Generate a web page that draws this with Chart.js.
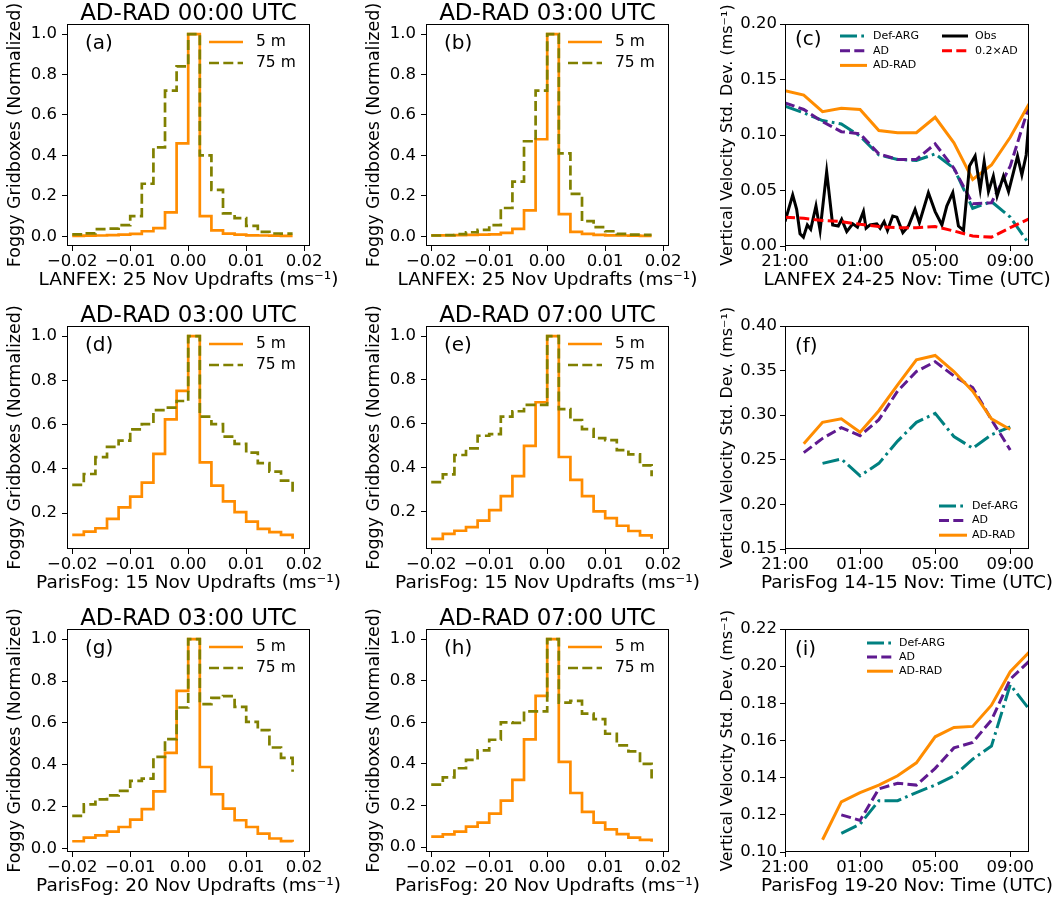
<!DOCTYPE html>
<html>
<head>
<meta charset="utf-8">
<script src="https://cdn.jsdelivr.net/npm/chart.js@4.4.1/dist/chart.umd.min.js"></script>
<style>
  html, body { margin: 0; padding: 0; background: #fff; overflow: hidden; }
  #fig { position: relative; width: 1059px; height: 901px; background: #fff; }
  #fig canvas { position: absolute; }
</style>
</head>
<body>
<div id="fig"></div>
<script>
// ---- histogram data: updraft bins (left edges, ms-1) and normalised counts ----
const binsX = [-0.020, -0.018, -0.016, -0.014, -0.012, -0.010, -0.008, -0.006, -0.004, -0.002,
               0.000, 0.002, 0.004, 0.006, 0.008, 0.010, 0.012, 0.014, 0.016, 0.018];

const lanfex00_5m  = [0.002, 0.003, 0.004, 0.006, 0.008, 0.012, 0.025, 0.040, 0.118, 0.46, 1.0, 0.10, 0.029, 0.013, 0.008, 0.005, 0.004, 0.003, 0.002, 0.002];
const lanfex00_75m = [0.010, 0.015, 0.036, 0.038, 0.055, 0.100, 0.26, 0.44, 0.72, 0.84, 1.0, 0.40, 0.23, 0.113, 0.090, 0.052, 0.022, 0.014, 0.013, 0.013];
const lanfex03_5m  = [0.005, 0.005, 0.006, 0.007, 0.008, 0.010, 0.017, 0.037, 0.128, 0.48, 1.0, 0.11, 0.022, 0.012, 0.007, 0.005, 0.004, 0.003, 0.002, 0.002];
const lanfex03_75m = [0.004, 0.006, 0.011, 0.020, 0.032, 0.055, 0.14, 0.27, 0.47, 0.72, 1.0, 0.41, 0.21, 0.075, 0.045, 0.025, 0.012, 0.008, 0.007, 0.007];

const paris15_03_5m  = [0.102, 0.117, 0.132, 0.174, 0.226, 0.275, 0.338, 0.468, 0.624, 0.753, 1.0, 0.43, 0.325, 0.253, 0.205, 0.162, 0.129, 0.114, 0.102, 0.084];
const paris15_03_75m = [0.328, 0.377, 0.453, 0.500, 0.528, 0.579, 0.602, 0.666, 0.677, 0.707, 1.0, 0.636, 0.602, 0.546, 0.513, 0.474, 0.426, 0.388, 0.347, 0.283];
const paris15_07_5m  = [0.074, 0.097, 0.111, 0.128, 0.157, 0.205, 0.269, 0.361, 0.499, 0.698, 1.0, 0.448, 0.343, 0.269, 0.200, 0.169, 0.134, 0.110, 0.090, 0.075];
const paris15_07_75m = [0.333, 0.369, 0.457, 0.487, 0.545, 0.552, 0.632, 0.657, 0.686, 0.686, 1.0, 0.667, 0.617, 0.575, 0.534, 0.525, 0.479, 0.460, 0.410, 0.360];

const paris20_03_5m  = [0.036, 0.053, 0.064, 0.082, 0.104, 0.139, 0.189, 0.274, 0.457, 0.753, 1.0, 0.39, 0.26, 0.192, 0.136, 0.104, 0.072, 0.049, 0.037, 0.033];
const paris20_03_75m = [0.157, 0.212, 0.236, 0.255, 0.276, 0.324, 0.335, 0.438, 0.523, 0.674, 1.0, 0.69, 0.72, 0.728, 0.677, 0.605, 0.566, 0.483, 0.434, 0.367];
const paris20_07_5m  = [0.050, 0.061, 0.074, 0.098, 0.118, 0.161, 0.223, 0.323, 0.518, 0.727, 1.0, 0.41, 0.26, 0.169, 0.118, 0.085, 0.062, 0.045, 0.035, 0.025];
const paris20_07_75m = [0.300, 0.335, 0.379, 0.419, 0.465, 0.516, 0.600, 0.597, 0.653, 0.653, 1.0, 0.695, 0.703, 0.642, 0.615, 0.545, 0.489, 0.460, 0.400, 0.330];

// ---- time series: hours after 21:00 UTC ----
const hours = [0, 1, 2, 3, 4, 5, 6, 7, 8, 9, 10, 11, 12, 13];

const lanfexDefArg = [0.126, 0.120, 0.113, 0.110, 0.099, 0.082, 0.078, 0.077, 0.083, 0.070, 0.034, 0.040, 0.026, 0.002];
const lanfexAD     = [0.129, 0.123, 0.112, 0.103, 0.101, 0.083, 0.078, 0.078, 0.092, 0.070, 0.038, 0.039, 0.072, 0.126];
const lanfexADRAD  = [0.140, 0.136, 0.121, 0.124, 0.123, 0.104, 0.102, 0.102, 0.116, 0.093, 0.060, 0.073, 0.098, 0.128];
const lanfexADx02  = [0.026, 0.025, 0.023, 0.022, 0.0195, 0.0175, 0.0165, 0.0165, 0.0175, 0.0135, 0.009, 0.008, 0.0165, 0.0245];

const obsHours  = [0, 0.41, 0.62, 0.8, 0.98, 1.19, 1.37, 1.65, 1.87, 2.22, 2.54, 2.84, 3.02, 3.29, 3.61, 3.86, 4.18, 4.32, 4.53, 4.89,
                   5.07, 5.28, 5.46, 5.74, 5.96, 6.28, 6.58, 6.93, 7.16, 7.64, 8.0, 8.36, 8.62, 8.94, 9.24, 9.51, 9.83, 10.13, 10.4, 10.61,
                   10.84, 11.1, 11.3, 11.64, 11.91, 12.18, 12.39, 12.62, 12.85, 13.0];
const obsValues = [0.022, 0.046, 0.033, 0.011, 0.008, 0.019, 0.015, 0.036, 0.014, 0.067, 0.019, 0.018, 0.024, 0.013, 0.020, 0.017, 0.031, 0.016, 0.019, 0.020,
                   0.016, 0.022, 0.014, 0.027, 0.026, 0.012, 0.018, 0.033, 0.021, 0.048, 0.031, 0.019, 0.036, 0.048, 0.018, 0.014, 0.072, 0.081, 0.051, 0.076,
                   0.049, 0.063, 0.045, 0.063, 0.049, 0.067, 0.081, 0.064, 0.082, 0.114];

const paris15DefArg = [null, null, 0.246, 0.251, 0.232, 0.246, 0.271, 0.292, 0.302, 0.276, 0.263, 0.278, 0.287, null];
const paris15AD     = [null, 0.258, 0.274, 0.286, 0.277, 0.295, 0.327, 0.349, 0.360, 0.344, 0.331, 0.295, 0.261, null];
const paris15ADRAD  = [null, 0.268, 0.292, 0.296, 0.281, 0.305, 0.334, 0.362, 0.367, 0.349, 0.327, 0.296, 0.284, null];

const paris20DefArg = [null, null, null, 0.110, 0.115, 0.1276, 0.1276, 0.132, 0.136, 0.141, 0.150, 0.157, 0.190, 0.177];
const paris20AD     = [null, null, null, 0.120, 0.117, 0.134, 0.137, 0.136, 0.145, 0.156, 0.159, 0.171, 0.193, 0.2026];
const paris20ADRAD  = [null, null, 0.1066, 0.127, 0.132, 0.136, 0.141, 0.148, 0.162, 0.167, 0.1676, 0.179, 0.197, 0.2075];

// ---- tick positions and labels ----
const histXTicks = [-0.02, -0.01, 0, 0.01, 0.02];
const histXLabels = ['\u22120.02', '\u22120.01', '0.00', '0.01', '0.02'];
const histYTicks = [0, 0.2, 0.4, 0.6, 0.8, 1.0];
const histYLabels = ['0.0', '0.2', '0.4', '0.6', '0.8', '1.0'];
const timeTicks = [0, 4, 8, 12];
const timeLabels = ['21:00', '01:00', '05:00', '09:00'];
const lanfexYTicks = [0, 0.05, 0.10, 0.15, 0.20];
const lanfexYLabels = ['0.00', '0.05', '0.10', '0.15', '0.20'];
const paris15YTicks = [0.15, 0.20, 0.25, 0.30, 0.35, 0.40];
const paris15YLabels = ['0.15', '0.20', '0.25', '0.30', '0.35', '0.40'];
const paris20YTicks = [0.10, 0.12, 0.14, 0.16, 0.18, 0.20, 0.22];
const paris20YLabels = ['0.10', '0.12', '0.14', '0.16', '0.18', '0.20', '0.22'];

// ---- styling ----
const FONT = "'DejaVu Sans', sans-serif";
const ORANGE = '#ff8c00', OLIVE = '#808000', TEAL = '#008080', PURPLE = '#5f1a90', RED = '#ff0000';
const DASH = [10, 4.3];
const DASHDOT = [17, 4.3, 2.7, 4.3];

Chart.defaults.font.family = FONT;
Chart.defaults.color = '#000';

const COL_LEFT = [67, 426, 785];
const COL_W = [243, 243, 244];
const ROW_TOP = [24, 326, 629];
const ROW_H = [222, 223, 223];
const AXIS_W = 67, TOP_H = 24, AXIS_H = 52;

const fig = document.getElementById('fig');

function makeCanvas(col, row) {
  const c = document.createElement('canvas');
  const left = COL_LEFT[col] - AXIS_W;
  const top = ROW_TOP[row] - TOP_H;
  const w = col === 2 ? 1059 - left : AXIS_W + COL_W[col] + 30;
  const h = TOP_H + ROW_H[row] + AXIS_H;
  c.width = w; c.height = h;
  c.style.left = left + 'px'; c.style.top = top + 'px';
  c.style.width = w + 'px'; c.style.height = h + 'px';
  fig.appendChild(c);
  return { canvas: c, right: w - AXIS_W - COL_W[col] };
}

// frame, titles, axis labels, panel letter and an in-axes legend
function decor(cfg) {
  return {
    id: 'decor',
    afterDatasetsDraw(chart) {
      const { ctx, chartArea: a } = chart;
      ctx.save();
      ctx.setLineDash([]);
      ctx.strokeStyle = '#000';
      ctx.lineWidth = 1;
      ctx.strokeRect(Math.round(a.left) + 0.5, Math.round(a.top) + 0.5,
                     Math.round(a.width) - 1, Math.round(a.height) - 1);
      ctx.fillStyle = '#000';

      ctx.textAlign = 'center';
      ctx.textBaseline = 'alphabetic';
      if (cfg.title) {
        ctx.font = '23px ' + FONT;
        ctx.fillText(cfg.title, a.left + a.width / 2, a.top - 4);
      }
      ctx.font = '18.5px ' + FONT;
      ctx.fillText(cfg.xTitle, a.left + a.width / 2, a.bottom + 39);
      ctx.save();
      ctx.translate(a.left - cfg.yTitleGap, a.top + a.height / 2);
      ctx.rotate(-Math.PI / 2);
      ctx.font = cfg.yTitleSize + 'px ' + FONT;
      ctx.fillText(cfg.yTitle, 0, 0);
      ctx.restore();

      ctx.textAlign = 'left';
      ctx.textBaseline = 'middle';
      ctx.font = '20px ' + FONT;
      ctx.fillText(cfg.tag, a.left + cfg.tagPos[0], a.top + cfg.tagPos[1]);

      const lg = cfg.legend;
      ctx.font = lg.size + 'px ' + FONT;
      lg.items.forEach(it => {
        const [x0, x1, tx] = lg.cols[it.col || 0];
        const y = a.top + lg.y + it.row * lg.dy;
        ctx.beginPath();
        ctx.strokeStyle = it.color;
        ctx.lineWidth = it.width;
        ctx.setLineDash(it.dash || []);
        ctx.moveTo(a.left + x0, y);
        ctx.lineTo(a.left + x1, y);
        ctx.stroke();
        ctx.fillStyle = '#000';
        ctx.fillText(it.label, a.left + tx, y);
      });
      ctx.restore();
    }
  };
}

const tickGrid = { drawOnChartArea: false, drawTicks: true, tickLength: 5, color: '#000', lineWidth: 1 };

function axis(min, max, ticks, labels, fit, tickPad) {
  return {
    type: 'linear', min, max,
    afterFit: fit,
    afterBuildTicks: s => { s.ticks = ticks.filter(v => v >= min && v <= max).map(v => ({ value: v })); },
    ticks: {
      autoSkip: false, maxRotation: 0, padding: tickPad,
      font: { size: 16.5 },
      callback: v => labels[ticks.indexOf(v)]
    },
    grid: tickGrid,
    border: { display: false },
    title: { display: false }
  };
}

function histPanel(col, row, title, tag, xTitle, small, large) {
  const { canvas, right } = makeCanvas(col, row);
  const lo = Math.min(...small, ...large), hi = Math.max(...small, ...large);
  const yMin = lo - 0.05 * (hi - lo), yMax = hi + 0.05 * (hi - lo);
  const pts = arr => binsX.map((x, i) => ({ x, y: arr[i] }));
  new Chart(canvas, {
    type: 'line',
    data: {
      datasets: [
        { label: '75 m', data: pts(large), borderColor: OLIVE, borderWidth: 2.7, borderDash: DASH,
          stepped: 'before', pointRadius: 0, fill: false },
        { label: '5 m', data: pts(small), borderColor: ORANGE, borderWidth: 2.7,
          stepped: 'before', pointRadius: 0, fill: false }
      ]
    },
    options: {
      responsive: false, animation: false, events: [],
      layout: { padding: { top: TOP_H, right, left: 0, bottom: 0 } },
      plugins: { legend: { display: false }, tooltip: { enabled: false } },
      scales: {
        x: axis(-0.0209, 0.0210, histXTicks, histXLabels, s => { s.height = AXIS_H; }, 1),
        y: axis(yMin, yMax, histYTicks, histYLabels, s => { s.width = AXIS_W; }, 5)
      }
    },
    plugins: [decor({
      title, tag, tagPos: [18, 20], xTitle,
      yTitle: 'Foggy Gridboxes (Normalized)', yTitleSize: 17.5, yTitleGap: 47.5,
      legend: {
        size: 15.5, cols: [[142, 176, 189]], y: 18, dy: 21,
        items: [
          { label: '5 m', color: ORANGE, width: 2.7, row: 0 },
          { label: '75 m', color: OLIVE, width: 2.7, dash: DASH, row: 1 }
        ]
      }
    })]
  });
}

function seriesPanel(row, tag, tagPos, xTitle, yMin, yMax, yTicks, yLabels, series, legend) {
  const { canvas, right } = makeCanvas(2, row);
  const n = series.length;
  new Chart(canvas, {
    type: 'line',
    data: {
      datasets: series.map((s, i) => ({
        label: s.label,
        data: s.x.map((x, j) => ({ x, y: s.y[j] })).filter(p => p.y !== null),
        borderColor: s.color, borderWidth: 3, borderDash: s.dash || [],
        pointRadius: 0, fill: false, tension: 0, order: n - i
      }))
    },
    options: {
      responsive: false, animation: false, events: [],
      layout: { padding: { top: TOP_H, right, left: 0, bottom: 0 } },
      plugins: { legend: { display: false }, tooltip: { enabled: false } },
      scales: {
        x: axis(0, 13, timeTicks, timeLabels, s => { s.height = AXIS_H; }, 1),
        y: axis(yMin, yMax, yTicks, yLabels, s => { s.width = AXIS_W; }, 3)
      }
    },
    plugins: [decor({
      title: null, tag, tagPos, xTitle,
      yTitle: 'Vertical Velocity Std. Dev. (ms\u207b\u00b9)', yTitleSize: 16, yTitleGap: 53,
      legend
    })]
  });
}

// ---- left and middle columns ----
histPanel(0, 0, 'AD-RAD 00:00 UTC', '(a)', 'LANFEX: 25 Nov Updrafts (ms\u207b\u00b9)', lanfex00_5m, lanfex00_75m);
histPanel(1, 0, 'AD-RAD 03:00 UTC', '(b)', 'LANFEX: 25 Nov Updrafts (ms\u207b\u00b9)', lanfex03_5m, lanfex03_75m);
histPanel(0, 1, 'AD-RAD 03:00 UTC', '(d)', 'ParisFog: 15 Nov Updrafts (ms\u207b\u00b9)', paris15_03_5m, paris15_03_75m);
histPanel(1, 1, 'AD-RAD 07:00 UTC', '(e)', 'ParisFog: 15 Nov Updrafts (ms\u207b\u00b9)', paris15_07_5m, paris15_07_75m);
histPanel(0, 2, 'AD-RAD 03:00 UTC', '(g)', 'ParisFog: 20 Nov Updrafts (ms\u207b\u00b9)', paris20_03_5m, paris20_03_75m);
histPanel(1, 2, 'AD-RAD 07:00 UTC', '(h)', 'ParisFog: 20 Nov Updrafts (ms\u207b\u00b9)', paris20_07_5m, paris20_07_75m);

// ---- right column ----
const modelItems = [
  { label: 'Def-ARG', color: TEAL, width: 3, dash: DASHDOT, row: 0 },
  { label: 'AD', color: PURPLE, width: 3, dash: DASH, row: 1 },
  { label: 'AD-RAD', color: ORANGE, width: 3, row: 2 }
];

seriesPanel(0, '(c)', [10, 16], 'LANFEX 24-25 Nov: Time (UTC)', 0, 0.2, lanfexYTicks, lanfexYLabels, [
  { label: 'Def-ARG', x: hours, y: lanfexDefArg, color: TEAL, dash: DASHDOT },
  { label: 'AD', x: hours, y: lanfexAD, color: PURPLE, dash: DASH },
  { label: 'AD-RAD', x: hours, y: lanfexADRAD, color: ORANGE },
  { label: 'Obs', x: obsHours, y: obsValues, color: '#000' },
  { label: '0.2\u00d7AD', x: hours, y: lanfexADx02, color: RED, dash: DASH }
], {
  size: 11, cols: [[55, 82, 88], [157, 183, 190]], y: 12, dy: 14.7,
  items: modelItems.concat([
    { label: 'Obs', color: '#000', width: 3, col: 1, row: 0 },
    { label: '0.2\u00d7AD', color: RED, width: 3, dash: DASH, col: 1, row: 1 }
  ])
});

seriesPanel(1, '(f)', [10, 21], 'ParisFog 14-15 Nov: Time (UTC)', 0.15, 0.40, paris15YTicks, paris15YLabels, [
  { label: 'Def-ARG', x: hours, y: paris15DefArg, color: TEAL, dash: DASHDOT },
  { label: 'AD', x: hours, y: paris15AD, color: PURPLE, dash: DASH },
  { label: 'AD-RAD', x: hours, y: paris15ADRAD, color: ORANGE }
], { size: 11, cols: [[154, 182, 187]], y: 180, dy: 14.6, items: modelItems });

seriesPanel(2, '(i)', [10, 21], 'ParisFog 19-20 Nov: Time (UTC)', 0.10, 0.22, paris20YTicks, paris20YLabels, [
  { label: 'Def-ARG', x: hours, y: paris20DefArg, color: TEAL, dash: DASHDOT },
  { label: 'AD', x: hours, y: paris20AD, color: PURPLE, dash: DASH },
  { label: 'AD-RAD', x: hours, y: paris20ADRAD, color: ORANGE }
], { size: 11, cols: [[82, 108, 114]], y: 14, dy: 14.1, items: modelItems });
</script>
</body>
</html>
